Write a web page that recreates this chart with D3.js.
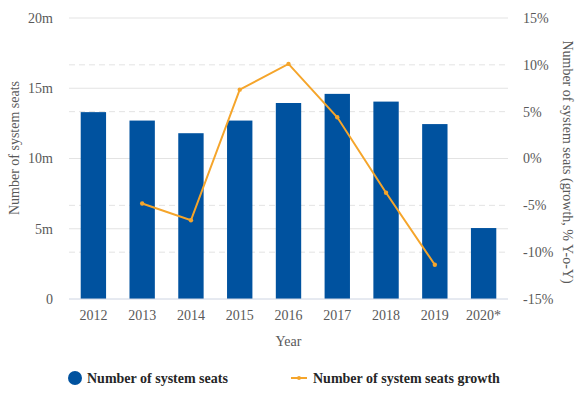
<!DOCTYPE html>
<html>
<head>
<meta charset="utf-8">
<script src="https://cdn.jsdelivr.net/npm/d3@7"></script>
<style>
  body { margin: 0; background: #fff; }
</style>
</head>
<body>
<div id="chart"></div>
<script>
// chart data
const years = ['2012', '2013', '2014', '2015', '2016', '2017', '2018', '2019', '2020*'];
const seats = [13.3, 12.7, 11.8, 12.7, 13.95, 14.6, 14.05, 12.45, 5.05];          // millions
const growth = [null, -4.8, -6.6, 7.35, 10.1, 4.4, -3.65, -11.35, null];          // % Y-o-Y
const leftTicks = [0, 5, 10, 15, 20];
const rightTicks = [-15, -10, -5, 0, 5, 10, 15];

const FONT = "'Liberation Serif', 'Times New Roman', serif";
const W = 584, H = 395;
const margin = {top: 18, right: 76, bottom: 96, left: 69};
const width = W - margin.left - margin.right;
const height = H - margin.top - margin.bottom;

const svg = d3.select('#chart').append('svg')
    .attr('width', W)
    .attr('height', H)
    .style('font-family', FONT);

const chart = svg.append('g')
    .attr('transform', `translate(${margin.left},${margin.top})`);

const xScale = d3.scaleBand()
    .domain(years)
    .range([0, width])
    .paddingInner(0.48)
    .paddingOuter(0.24);

const yLeft = d3.scaleLinear().domain([0, 20]).range([height, 0]);
const yRight = d3.scaleLinear().domain([-15, 15]).range([height, 0]);

// gridlines: solid for the left axis, dashed for right ticks that fall between
const leftYs = leftTicks.map(t => Math.round(yLeft(t)));
chart.append('g').selectAll('line')
    .data(leftTicks.filter(t => t !== 0))
    .join('line')
    .attr('x1', 0).attr('x2', width)
    .attr('y1', d => yLeft(d)).attr('y2', d => yLeft(d))
    .attr('stroke', '#e3e3e3');

chart.append('g').selectAll('line')
    .data(rightTicks.filter(t => !leftYs.includes(Math.round(yRight(t)))))
    .join('line')
    .attr('x1', 0).attr('x2', width)
    .attr('y1', d => yRight(d)).attr('y2', d => yRight(d))
    .attr('stroke', '#e3e3e3')
    .attr('stroke-dasharray', '6,4');

// bars
chart.selectAll('.bar')
    .data(years.map((y, i) => ({year: y, value: seats[i]})))
    .join('rect')
    .attr('class', 'bar')
    .attr('x', d => xScale(d.year))
    .attr('y', d => yLeft(d.value))
    .attr('width', xScale.bandwidth())
    .attr('height', d => height - yLeft(d.value))
    .attr('fill', '#00529f');

// baseline
chart.append('line')
    .attr('x1', 0).attr('x2', width)
    .attr('y1', height).attr('y2', height)
    .attr('stroke', '#cdd4e2');

// growth line
const growthData = years.map((y, i) => ({year: y, value: growth[i]})).filter(d => d.value !== null);
const line = d3.line()
    .x(d => xScale(d.year) + xScale.bandwidth() / 2)
    .y(d => yRight(d.value));

chart.append('path')
    .datum(growthData)
    .attr('d', line)
    .attr('fill', 'none')
    .attr('stroke', '#f5a52b')
    .attr('stroke-width', 2);

chart.selectAll('.dot')
    .data(growthData)
    .join('circle')
    .attr('class', 'dot')
    .attr('cx', d => xScale(d.year) + xScale.bandwidth() / 2)
    .attr('cy', d => yRight(d.value))
    .attr('r', 2.2)
    .attr('fill', '#f5a52b');

// axes
const xAxis = d3.axisBottom(xScale).tickSize(0).tickPadding(11);
const yAxisL = d3.axisLeft(yLeft).tickValues(leftTicks).tickSize(0).tickPadding(16)
    .tickFormat(d => d === 0 ? '0' : d + 'm');
const yAxisR = d3.axisRight(yRight).tickValues(rightTicks).tickSize(0).tickPadding(15)
    .tickFormat(d => d + '%');

const styleAxis = g => {
    g.attr('font-family', FONT).attr('font-size', 14);
    g.select('.domain').remove();
    g.selectAll('text').attr('fill', '#595959');
};

chart.append('g')
    .attr('transform', `translate(0,${height})`)
    .call(xAxis)
    .call(styleAxis);

chart.append('g').call(yAxisL).call(styleAxis);
chart.append('g').attr('transform', `translate(${width},0)`).call(yAxisR).call(styleAxis);

// axis titles
const title = sel => sel.attr('text-anchor', 'middle')
    .attr('font-family', FONT).attr('font-size', 14).attr('fill', '#595959');

svg.append('text')
    .attr('x', margin.left + width / 2)
    .attr('y', 346)
    .call(title)
    .text('Year');

svg.append('text')
    .attr('transform', `translate(19,148) rotate(-90)`)
    .call(title)
    .text('Number of system seats');

svg.append('text')
    .attr('transform', `translate(563,162) rotate(90)`)
    .call(title)
    .text('Number of system seats (growth, % Y-o-Y)');

// legend
const legend = svg.append('g')
    .attr('font-family', FONT).attr('font-size', 14)
    .attr('font-weight', 'bold').attr('fill', '#262626');
legend.append('circle')
    .attr('cx', 75).attr('cy', 378).attr('r', 7)
    .attr('fill', '#00529f');
legend.append('text')
    .attr('x', 87).attr('y', 383)
    .text('Number of system seats');
legend.append('line')
    .attr('x1', 291).attr('x2', 307)
    .attr('y1', 378).attr('y2', 378)
    .attr('stroke', '#f5a52b').attr('stroke-width', 2);
legend.append('circle')
    .attr('cx', 299).attr('cy', 378).attr('r', 2)
    .attr('fill', '#f5a52b');
legend.append('text')
    .attr('x', 313).attr('y', 383)
    .text('Number of system seats growth');
</script>
</body>
</html>
